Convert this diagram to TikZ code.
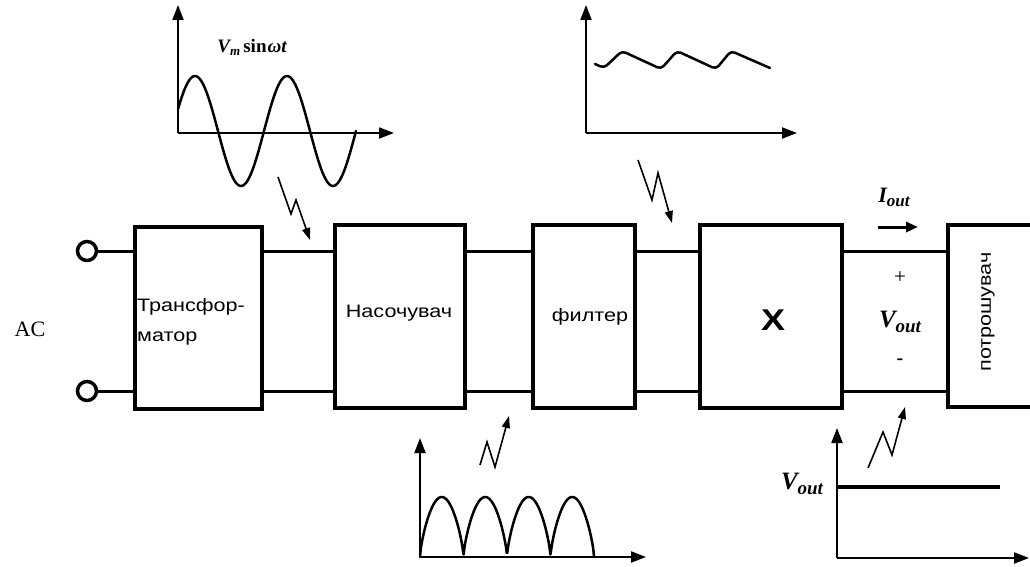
\documentclass[tikz,border=0pt]{standalone}
\usepackage{fontspec}
\setmainfont{Liberation Serif}
\newfontfamily\sfw[FakeStretch=1.2]{Liberation Sans}
\usetikzlibrary{arrows.meta}
\begin{document}
\begin{tikzpicture}[x=1pt,y=-1pt,
  blk/.style={draw, line width=3.5pt, inner sep=0},
  term/.style={draw, circle, line width=3.5pt, minimum size=19pt, inner sep=0},
  wire/.style={line width=3pt},
  axis/.style={line width=2pt, -{Triangle[length=15pt,width=11pt]}},
  wave/.style={line width=2.5pt, line join=round, line cap=round},
  bolt/.style={line width=1.6pt, line join=miter, -{Triangle[length=12pt,width=8pt]}},
  lab/.style={font=\sfw\fontsize{18}{30}\selectfont, inner sep=0},
  ser/.style={font=\bfseries\itshape\fontsize{25}{26}\selectfont, inner sep=0}]
\useasboundingbox (0,0) rectangle (1030,567);
\clip (0,0) rectangle (1030,567);

% main blocks
\node[blk, minimum width=127pt, minimum height=182pt] (tr) at (198.5,318) {};
\node[blk, minimum width=130pt, minimum height=183pt] (rc) at (400,316.5) {};
\node[blk, minimum width=102pt, minimum height=183pt] (fl) at (584,316.5) {};
\node[blk, minimum width=142pt, minimum height=183pt] (xb) at (771,316.5) {};
\node[blk, minimum width=100pt, minimum height=182pt] (ld) at (998,316) {};

% terminals
\node[term] (t1) at (87,251) {};
\node[term] (t2) at (87,391) {};
\coordinate (ytop) at (0,251);
\coordinate (ybot) at (0,391);

% wires
\draw[wire] (t1.east) -- (tr.west |- t1);
\draw[wire] (t2.east) -- (tr.west |- t2);
\draw[wire] (tr.east |- ytop) -- (rc.west |- ytop);
\draw[wire] (tr.east |- ybot) -- (rc.west |- ybot);
\draw[wire] (rc.east |- ytop) -- (fl.west |- ytop);
\draw[wire] (rc.east |- ybot) -- (fl.west |- ybot);
\draw[wire] (fl.east |- ytop) -- (xb.west |- ytop);
\draw[wire] (fl.east |- ybot) -- (xb.west |- ybot);
\draw[wire] (xb.east |- ytop) -- (ld.west |- ytop);
\draw[wire] (xb.east |- ybot) -- (ld.west |- ybot);

% block labels
\node[lab, anchor=west, align=left] (trl) at (137,322) {Трансфор-\\матор};
\node[lab] (rcl) at (399,313) {Насочувач};
\node[lab] (fll) at (590,317) {филтер};
\node[inner sep=0, font=\sfw\bfseries\fontsize{30}{32}\selectfont] (xl) at (773,320) {X};
\node[lab, rotate=90] (ldl) at (988,312) {потрошувач};
\node[inner sep=0, font=\fontsize{22}{24}\selectfont] (ac) at (30,329) {AC};

% output labels
\node[inner sep=0, font=\fontsize{21}{22}\selectfont] (plus) at (900,278) {+};
\node[ser] (vout) at (900,322) {V\raisebox{-0.4ex}{\fontsize{19}{20}\selectfont out}};
\node[inner sep=0, font=\bfseries\fontsize{20}{22}\selectfont] (minus) at (900,362) {-};
\node[ser, font=\bfseries\itshape\fontsize{22}{24}\selectfont] (iout) at (894,197) {I\raisebox{-0.4ex}{\fontsize{17}{18}\selectfont out}};
\draw[line width=3pt, -{Triangle[length=12pt,width=10pt]}] (878,227) -- (918,227);

% graph A: sine
\draw[axis] (178,133) -- (178,5);
\draw[axis] (178,133) -- (394,133);
\draw[wave] plot[domain=178:356, samples=160] (\x,{131-55*sin(3.913*(\x-172))});
\node[ser, font=\bfseries\itshape\fontsize{19}{20}\selectfont] (vm) at (252,47) {V\raisebox{-0.35ex}{\fontsize{13}{14}\selectfont m}\,{\upshape sin}\hspace{1pt}ωt};

% graph B: ripple
\draw[axis] (586,133) -- (586,5);
\draw[axis] (586,133) -- (797,133);
\draw[wave, rounded corners=4pt] (595,64) -- (604,68) -- (622,51) -- (661,69) -- (677,51) -- (716,69) -- (731,51) -- (770,68);

% graph C: rectified
\draw[axis] (420,557) -- (420,438);
\draw[axis] (420,557) -- (646,557);
\draw[wave] plot[domain=420:594, samples=300] (\x,{557-60*pow(abs(sin(4.138*(\x-420))),0.7)});

% graph D: dc output
\draw[axis] (837,558) -- (837,428);
\draw[axis] (837,558) -- (1029,558);
\draw[line width=3.5pt] (837,487) -- (1000,487);
\node[ser] (vd) at (802,484) {V\raisebox{-0.4ex}{\fontsize{19}{20}\selectfont out}};

% lightning arrows
\draw[bolt] (278,177) -- (291,214) -- (296,200) -- (310,240);
\draw[bolt] (638,160) -- (652,200) -- (658,173) -- (672,223);
\draw[bolt] (480,465) -- (487,442) -- (495,467) -- (509,416);
\draw[bolt] (868,468) -- (883,432) -- (892,455) -- (905,407);
\end{tikzpicture}
\end{document}
